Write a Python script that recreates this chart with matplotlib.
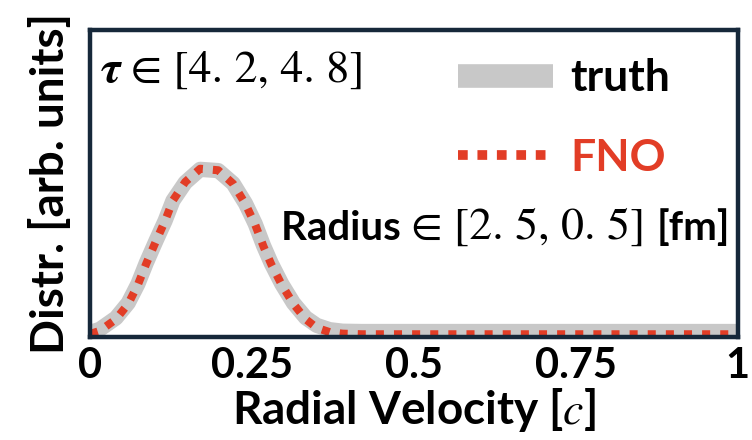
import matplotlib.pyplot as plt
from matplotlib.lines import Line2D

# radial velocity grid and distributions (arb. units)
velocity = [0.0, 0.015, 0.04, 0.059, 0.074, 0.087, 0.102, 0.116, 0.128, 0.147,
            0.17, 0.198, 0.221, 0.24, 0.255, 0.268, 0.28, 0.296, 0.314, 0.333,
            0.35, 0.37, 0.39, 0.42, 0.5, 0.6, 0.8, 1.0]
truth = [0.015, 0.025, 0.062, 0.111, 0.173, 0.242, 0.314, 0.379, 0.444, 0.503,
         0.546, 0.542, 0.5, 0.435, 0.369, 0.297, 0.239, 0.173, 0.111, 0.063,
         0.038, 0.024, 0.019, 0.018, 0.018, 0.018, 0.018, 0.018]
fno = [0.01, 0.02, 0.058, 0.108, 0.171, 0.24, 0.313, 0.379, 0.445, 0.505,
       0.548, 0.543, 0.499, 0.433, 0.366, 0.294, 0.236, 0.17, 0.108, 0.058,
       0.03, 0.016, 0.011, 0.009, 0.009, 0.009, 0.009, 0.009]
xticks = [0, 0.25, 0.5, 0.75, 1]
xticklabels = ['0', '0.25', '0.5', '0.75', '1']

grey = '#c8c8c8'
red = '#e23d26'
navy = '#16283a'
plt.rcParams['mathtext.fontset'] = 'stix'

fig = plt.figure(figsize=(7.52, 4.40), dpi=100)
ax = fig.add_axes([0.1197, 0.234, 0.8613, 0.698])

ax.plot(velocity, truth, color=grey, lw=11, solid_capstyle='butt')
ax.plot(velocity, fno, color=red, lw=5.8, dashes=(1, 1.25))

ax.set_xlim(0, 1)
ax.set_ylim(0, 1)
ax.set_xticks(xticks)
ax.set_xticklabels(xticklabels, family='Lato', weight='bold', fontsize=30)
ax.set_yticks([])
ax.tick_params(axis='x', length=0, pad=7)
for s in ax.spines.values():
    s.set_linewidth(3.2)
    s.set_color(navy)

ax.set_xlabel('Radial Velocity [$c$]', family='Lato', weight='bold', fontsize=33, labelpad=1)
ax.set_ylabel('Distr. [arb. units]', family='Lato', weight='bold', fontsize=33, labelpad=13)

# tau window
t1 = ax.text(0.016, 0.866, 'τ', transform=ax.transAxes, family='STIXGeneral',
             style='italic', weight='bold', fontsize=33, va='center', ha='left')
ax.annotate(' ∈ [4. 2, 4. 8]', xy=(1, 0.5), xycoords=t1, va='center', ha='left',
            family='STIXGeneral', fontsize=33)

# radius window
r1 = ax.text(0.295, 0.355, 'Radius ', transform=ax.transAxes, family='Lato',
             weight='bold', fontsize=29, va='center', ha='left')
r2 = ax.annotate('∈ [2. 5, 0. 5] ', xy=(1, 0.5), xycoords=r1, va='center', ha='left',
                 family='STIXGeneral', fontsize=33)
ax.annotate('[fm]', xy=(1, 0.5), xycoords=r2, va='center', ha='left',
            family='Lato', weight='bold', fontsize=29)

handles = [Line2D([], [], color=grey, lw=17, solid_capstyle='butt'),
           Line2D([], [], color=red, lw=7, dashes=(1, 1.0))]
ax.legend(handles, ['truth', 'FNO'], loc='upper left', frameon=False,
          prop={'family': 'Lato', 'weight': 'bold', 'size': 32},
          labelcolor=['black', red], handlelength=2.14, handletextpad=0.38,
          labelspacing=0.89, borderpad=0, borderaxespad=0,
          bbox_to_anchor=(0.568, 0.907))

fig.savefig('out.png', dpi=100)
